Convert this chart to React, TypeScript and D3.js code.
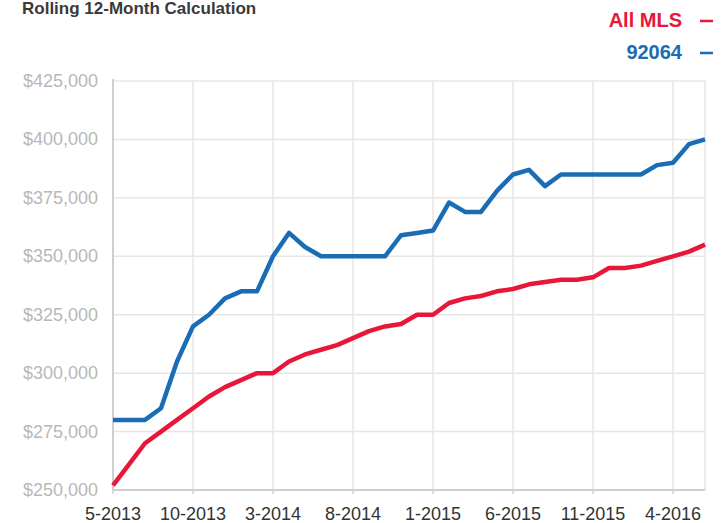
import React from "react";
import * as d3 from "d3";

const months: string[] = [
  "5-2013","6-2013","7-2013","8-2013","9-2013","10-2013","11-2013","12-2013",
  "1-2014","2-2014","3-2014","4-2014","5-2014","6-2014","7-2014","8-2014",
  "9-2014","10-2014","11-2014","12-2014","1-2015","2-2015","3-2015","4-2015",
  "5-2015","6-2015","7-2015","8-2015","9-2015","10-2015","11-2015","12-2015",
  "1-2016","2-2016","3-2016","4-2016","5-2016","6-2016"
];

const zip92064: number[] = [
  280000, 280000, 280000, 285000, 305000, 320000, 325000, 332000,
  335000, 335000, 350000, 360000, 354000, 350000, 350000, 350000,
  350000, 350000, 359000, 360000, 361000, 373000, 369000, 369000,
  378000, 385000, 387000, 380000, 385000, 385000, 385000, 385000,
  385000, 385000, 389000, 390000, 398000, 400000
];

const allMLS: number[] = [
  252000, 261000, 270000, 275000, 280000, 285000, 290000, 294000,
  297000, 300000, 300000, 305000, 308000, 310000, 312000, 315000,
  318000, 320000, 321000, 325000, 325000, 330000, 332000, 333000,
  335000, 336000, 338000, 339000, 340000, 340000, 341000, 345000,
  345000, 346000, 348000, 350000, 352000, 355000
];

const xTickLabels: string[] = ["5-2013","10-2013","3-2014","8-2014","1-2015","6-2015","11-2015","4-2016"];
const yTicks: number[] = [250000, 275000, 300000, 325000, 350000, 375000, 400000, 425000];

const series = [
  { name: "All MLS", values: allMLS, color: "#e8173a" },
  { name: "92064", values: zip92064, color: "#1a6db5" },
];

export default function App() {
  const W = 726, H = 523;
  const left = 113, right = 705, top = 81, bottom = 490;
  const x = d3.scalePoint<string>().domain(months).range([left, right]);
  const y = d3.scaleLinear().domain([250000, 425000]).range([bottom, top]);
  const line = d3.line<number>()
    .x((_, i) => x(months[i]) as number)
    .y((d) => y(d))
    .curve(d3.curveLinear);
  const fmt = (v: number) => "$" + d3.format(",")(v);

  return (
    <svg width={W} height={H} style={{ position: "absolute", left: 0, top: 0, background: "#fff" }}
      fontFamily="'Liberation Sans', Arial, Helvetica, sans-serif">
      <rect x={0} y={0} width={W} height={H} fill="#fff" />
      {/* Title */}
      <text x={22} y={14} fontSize={17} fontWeight="bold" fill="#3a3a3a">Rolling 12-Month Calculation</text>

      {/* grid */}
      {yTicks.map((t) => (
        <line key={"gy" + t} x1={left} x2={right} y1={y(t)} y2={y(t)} stroke="#e6e6e6" strokeWidth={1.5} />
      ))}
      {xTickLabels.map((m) => (
        <line key={"gx" + m} x1={x(m)} x2={x(m)} y1={top} y2={bottom} stroke="#e6e6e6" strokeWidth={1.5} />
      ))}
      <line x1={right} x2={right} y1={top} y2={bottom} stroke="#e6e6e6" strokeWidth={1.5} />

      {/* axes */}
      <line x1={left} x2={left} y1={top - 2} y2={bottom} stroke="#cfcfcf" strokeWidth={2} />
      <line x1={left} x2={right} y1={bottom} y2={bottom} stroke="#cfcfcf" strokeWidth={2} />
      {xTickLabels.map((m) => (
        <line key={"tx" + m} x1={x(m)} x2={x(m)} y1={bottom} y2={bottom + 4} stroke="#cfcfcf" strokeWidth={1.5} />
      ))}

      {/* y labels */}
      {yTicks.map((t) => (
        <text key={"ly" + t} x={98} y={y(t) + 6} textAnchor="end" fontSize={18} fill="#b8b8b8">{fmt(t)}</text>
      ))}
      {/* x labels */}
      {xTickLabels.map((m) => (
        <text key={"lx" + m} x={x(m)} y={520} textAnchor="middle" fontSize={18} fill="#333">{m}</text>
      ))}

      {/* lines */}
      {series.map((s) => (
        <path key={s.name} d={line(s.values) || ""} fill="none" stroke={s.color} strokeWidth={4.5}
          strokeLinejoin="round" strokeLinecap="butt" />
      ))}

      {/* legend */}
      {series.map((s, i) => (
        <g key={"lg" + s.name}>
          <text x={682} y={27 + i * 32} textAnchor="end" fontSize={20} fontWeight="bold" fill={s.color}>{s.name}</text>
          <line x1={700} x2={713} y1={21 + i * 32} y2={21 + i * 32} stroke={s.color} strokeWidth={2.5} />
        </g>
      ))}
    </svg>
  );
}
